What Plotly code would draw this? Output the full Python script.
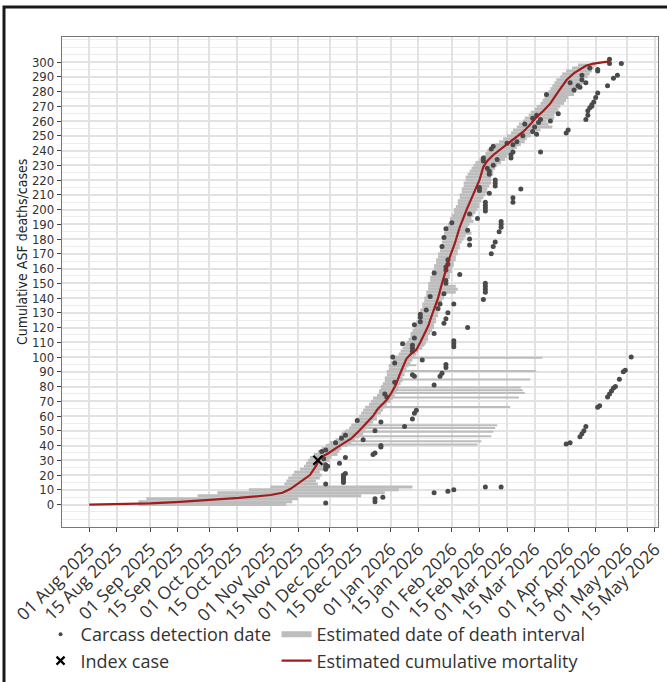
import pandas as pd
import plotly.graph_objects as go

START = pd.Timestamp("2025-08-01")

# Estimated cumulative mortality (days since 01 Aug 2025, cumulative count)
MORT_DAY = [0, 15, 31, 46, 61, 76, 92, 98, 102, 107, 112, 115, 116.5, 118, 121, 126, 130, 133,
            137, 141, 144, 146.5, 149, 151, 153, 155.5, 157.5, 159.5, 161, 163.5, 166, 168, 170,
            172, 173.5, 175, 177, 179, 181, 183, 185.5, 188, 191.5, 195, 198, 200, 202, 205, 209,
            213.6, 217, 220.4, 224, 227.2, 230.5, 234, 238, 242.3, 246, 249, 252, 255.8, 259, 262, 264]
MORT_VAL = [0, 0.2, 0.8, 1.8, 3, 4.5, 6.5, 8, 10.5, 15, 20, 26, 30, 32.5, 34.5, 39, 42, 44.8,
            50, 55.5, 60, 65, 68.5, 71, 75, 81, 88, 95, 99, 102.5, 105, 110, 116,
            121, 127, 133, 140, 150, 159, 168, 177, 188, 200, 211, 220, 229, 233, 237, 241,
            246, 249, 253, 258, 263, 267, 272, 280, 288, 292.5, 295, 297.5, 299, 299.5, 299.7, 300.5]

# Estimated date-of-death intervals (case rank, start day, end day)
BAND_CASE = [0, 2, 4, 6, 8, 10, 12, 14, 16, 18, 20, 22, 24, 26, 28, 30, 32, 34, 36, 38, 40,
             42, 44, 46, 48, 50, 52, 54, 56, 58, 60, 62, 64, 66, 68, 70, 72, 74, 76, 78, 80,
             82, 84, 86, 88, 90, 92, 94, 96, 98, 100, 102, 104, 106, 108, 110, 112, 114, 116, 118, 120,
             122, 124, 126, 128, 130, 132, 134, 136, 138, 140, 142, 144, 146, 148, 150, 152, 154, 156, 158, 160,
             162, 164, 166, 168, 170, 172, 174, 176, 178, 180, 182, 184, 186, 188, 190, 192, 194, 196, 198, 200,
             202, 204, 206, 208, 210, 212, 214, 216, 218, 220, 222, 224, 226, 228, 230, 232, 234, 236, 238, 240,
             242, 244, 246, 248, 250, 252, 254, 256, 258, 260, 262, 264, 266, 268, 270, 272, 274, 276, 278, 280,
             282, 284, 286, 288, 290, 292, 294, 296, 298]
BAND_START = [25, 25, 29, 55, 65, 81, 92, 99, 100, 101, 103, 104, 107, 109, 110, 111, 112, 114, 116, 118, 120,
              122, 125, 127, 128, 130, 132, 133, 135, 136, 137, 138, 139, 140, 142, 143, 144, 146, 147, 148, 148,
              149, 150, 150, 151, 151, 152, 152, 153, 154, 155, 157, 158, 159, 160, 161, 162, 163, 163, 164, 165,
              166, 166, 167, 167, 168, 168, 169, 169, 170, 170, 171, 171, 172, 172, 172, 173, 173, 174, 174, 175,
              175, 176, 176, 177, 177, 178, 178, 179, 179, 180, 180, 180, 181, 181, 182, 183, 183, 184, 185, 185,
              186, 187, 187, 188, 188, 189, 189, 190, 190, 191, 191, 192, 193, 194, 195, 196, 198, 200, 201, 202,
              204, 206, 208, 210, 212, 214, 215, 217, 218, 220, 221, 223, 224, 226, 227, 229, 230, 231, 232, 233,
              234, 235, 236, 237, 239, 240, 242, 245, 248]
BAND_END = [100, 103, 106, 138, 150, 157, 164, 116, 115, 117, 118, 117, 119, 121, 120, 122, 123, 126, 127, 128, 131,
            133, 135, 137, 139, 140, 141, 143, 144, 146, 146, 148, 149, 150, 151, 153, 154, 155, 156, 157, 157,
            158, 159, 159, 160, 160, 161, 162, 163, 164, 165, 166, 167, 169, 170, 171, 172, 172, 173, 174, 175,
            175, 176, 176, 177, 177, 178, 178, 179, 179, 180, 180, 186, 187, 186, 182, 182, 183, 183, 184, 184,
            185, 185, 186, 186, 187, 187, 188, 188, 189, 190, 191, 194, 191, 192, 193, 195, 194, 195, 196, 197,
            198, 198, 199, 200, 201, 202, 202, 203, 204, 204, 204, 205, 205, 206, 207, 209, 211, 212, 214, 215,
            217, 219, 221, 222, 224, 226, 229, 235, 233, 232, 236, 236, 238, 238, 239, 241, 242, 243, 246, 247,
            248, 250, 251, 251, 253, 254, 255, 256, 257]

# Long death intervals of carcasses found late
LONG_CASE = [40.7, 43, 46.4, 49.3, 52, 53.8, 66.2, 72.6, 75.7, 77.5, 79.4, 84.8, 90.5, 94.5, 99.5, 108.8]
LONG_START = [121, 124, 127, 129, 132, 133, 141, 144, 147, 147, 148, 150, 151, 152, 154, 160]
LONG_END = [197, 199, 204, 205, 206, 207, 213.6, 218, 221, 220, 219, 223.8, 226.8, 166, 230, 170.6]

# Carcass detection dates (day, case rank)
DET_DAY = [120, 145, 145, 149, 175, 182, 185, 201, 209, 120, 129, 129, 129, 129, 129, 129, 130, 120, 120, 121,
           120, 127, 119, 130, 118, 120, 144, 145, 148, 148, 125, 128, 130, 139, 136, 145, 148, 160, 164, 165,
           166, 151, 150, 175, 155, 165, 164, 178, 179, 181, 181, 169, 155, 154, 164, 164, 164, 159, 165, 185,
           185, 185, 175, 192, 180, 181, 182, 168, 168, 168, 165, 177, 178, 185, 171, 173, 180, 200, 201, 201,
           201, 201, 188, 181, 181, 182, 182, 175, 181, 181, 204, 184, 181, 180, 179, 205, 206, 208, 209, 209,
           209, 193, 193, 192, 197, 193, 201, 201, 201, 201, 198, 198, 203, 215, 215, 219, 206, 206, 206, 203,
           203, 202, 207, 205, 200, 200, 204, 205, 214, 214, 215, 212, 229, 215, 217, 220, 221, 225, 227, 229,
           228, 226, 225, 227, 234, 238, 232, 242, 243, 246, 248, 249, 244, 250, 250, 252, 252, 253, 253, 254,
           255, 255, 256, 257, 258, 254, 258, 258, 263, 266, 268, 264, 264, 270,
           242, 244, 249, 250, 251, 252, 258, 259, 263, 264, 265, 266, 267, 269, 271, 272, 275]
DET_CASE = [1, 2, 4, 5, 8, 9, 10, 12, 12, 14, 15, 16, 17, 18, 19, 20, 21, 24, 25, 26,
            27, 28, 31, 32, 36, 37, 34, 35, 39, 40, 42, 45, 47, 44, 57, 50, 56, 53, 58, 62,
            64, 73, 75, 81, 83, 87, 88, 87, 89, 93, 95, 98, 96, 100, 104, 106, 108, 109, 113, 107,
            109, 111, 116, 120, 123, 126, 130, 124, 127, 129, 122, 133, 136, 136, 132, 141, 143, 139, 144, 146,
            148, 150, 156, 159, 161, 163, 166, 157, 150, 152, 170, 191, 187, 181, 175, 175, 178, 185, 188, 190,
            192, 176, 180, 186, 194, 197, 199, 201, 203, 205, 213, 215, 211, 205, 208, 214, 216, 218, 220, 224,
            226, 228, 234, 230, 233, 235, 241, 243, 235, 237, 239, 245, 239, 244, 246, 250, 258, 262, 264, 261,
            259, 256, 253, 251, 260, 265, 278, 252, 254, 281, 284, 283, 286, 288, 291, 286, 261, 264, 267, 269,
            270, 271, 273, 276, 279, 296, 294, 295, 284, 289, 291, 299, 302, 299,
            41, 42, 46, 48, 50, 53, 66, 67, 73, 75, 77, 79, 80, 85, 90, 91, 100]

INDEX_DAY = [116]
INDEX_CASE = [30]

X_TICK_DATES = ["2025-08-01", "2025-08-15", "2025-09-01", "2025-09-15", "2025-10-01", "2025-10-15",
                "2025-11-01", "2025-11-15", "2025-12-01", "2025-12-15", "2026-01-01", "2026-01-15",
                "2026-02-01", "2026-02-15", "2026-03-01", "2026-03-15", "2026-04-01", "2026-04-15",
                "2026-05-01", "2026-05-15"]
Y_TICKS = [0, 10, 20, 30, 40, 50, 60, 70, 80, 90, 100, 110, 120, 130, 140, 150, 160, 170, 180, 190,
           200, 210, 220, 230, 240, 250, 260, 270, 280, 290, 300]

GREY = "#bdbdbd"
DOT = "#4a4a4a"
RED = "#a11d1d"
COND = "Liberation Sans Narrow, DejaVu Sans Condensed, Roboto Condensed, Arial Narrow, sans-serif"
SANS = "Open Sans, Noto Sans, sans-serif"


def to_dates(days):
    return [START + pd.Timedelta(days=d) for d in days]


def segments(cases, starts, ends):
    xs, ys = [], []
    for c, s, e in zip(cases, starts, ends):
        xs += [START + pd.Timedelta(days=s), START + pd.Timedelta(days=e), None]
        ys += [c, c, None]
    return xs, ys


fig = go.Figure()

bx, by = segments(BAND_CASE, BAND_START, BAND_END)
fig.add_trace(go.Scatter(x=bx, y=by, mode="lines", line=dict(color=GREY, width=3),
                         showlegend=False, hoverinfo="skip"))
lx, ly = segments(LONG_CASE, LONG_START, LONG_END)
fig.add_trace(go.Scatter(x=lx, y=ly, mode="lines", line=dict(color=GREY, width=2),
                         showlegend=False, hoverinfo="skip"))
fig.add_trace(go.Scatter(x=to_dates(DET_DAY), y=DET_CASE, mode="markers",
                         marker=dict(color=DOT, size=5), showlegend=False))
fig.add_trace(go.Scatter(x=to_dates(MORT_DAY), y=MORT_VAL, mode="lines",
                         line=dict(color=RED, width=2.2), showlegend=False))
fig.add_trace(go.Scatter(x=to_dates(INDEX_DAY), y=INDEX_CASE, mode="markers",
                         marker=dict(symbol="x-thin", size=9, line=dict(color="black", width=2.2)),
                         showlegend=False))

# legend entries (two columns = two legends)
fig.add_trace(go.Scatter(x=[None], y=[None], mode="markers", name="Carcass detection date",
                         marker=dict(color=DOT, size=4), legend="legend"))
fig.add_trace(go.Scatter(x=[None], y=[None], mode="markers", name="Index case",
                         marker=dict(symbol="x-thin", size=8, line=dict(color="black", width=2.2)),
                         legend="legend"))
fig.add_trace(go.Scatter(x=[None], y=[None], mode="lines", name="Estimated date of death interval",
                         line=dict(color=GREY, width=6), legend="legend2"))
fig.add_trace(go.Scatter(x=[None], y=[None], mode="lines", name="Estimated cumulative mortality",
                         line=dict(color=RED, width=2.2), legend="legend2"))

x0 = START + pd.Timedelta(days=-13.8)
x1 = START + pd.Timedelta(days=288.6)

LEG_FONT = dict(family=SANS, size=18, color="#333")

fig.update_layout(
    width=667, height=682,
    margin=dict(l=62, r=9, t=37, b=155, autoexpand=False),
    plot_bgcolor="white", paper_bgcolor="white",
    xaxis=dict(range=[x0, x1], tickvals=X_TICK_DATES, tickformat="%d %b %Y", tickangle=-45,
               ticks="outside", ticklen=4, tickcolor="#444", tickwidth=1.2,
               showgrid=True, gridcolor="#e2e2e2", gridwidth=1.5,
               showline=True, linecolor="#777", linewidth=1.3, mirror=True, zeroline=False,
               tickfont=dict(family=SANS, size=17.5, color="#333")),
    yaxis=dict(range=[-15.2, 317], tickvals=Y_TICKS, ticks="outside", ticklen=4, tickcolor="#444",
               tickwidth=1.2, showgrid=True, gridcolor="#e2e2e2", gridwidth=1.5,
               minor=dict(dtick=5, tick0=0, showgrid=True, gridcolor="#ececec", gridwidth=1),
               showline=True, linecolor="#777", linewidth=1.3, mirror=True, zeroline=False,
               tickfont=dict(family=COND, size=13, color="#333")),
    legend=dict(orientation="v", x=-0.036, xanchor="left", y=(527 - 616) / 490, yanchor="top",
                font=LEG_FONT, tracegroupgap=0, bgcolor="rgba(0,0,0,0)", itemwidth=30),
    legend2=dict(orientation="v", x=0.36, xanchor="left", y=(527 - 616) / 490, yanchor="top",
                 font=LEG_FONT, tracegroupgap=0, bgcolor="rgba(0,0,0,0)"),
    annotations=[dict(text="Cumulative ASF deaths/cases", textangle=-90, xref="paper", yref="paper",
                      x=(22 - 62) / 596, y=0.561, xanchor="center", yanchor="middle", showarrow=False,
                      font=dict(family=COND, size=14, color="#222"))],
    shapes=[dict(type="rect", xref="paper", yref="paper",
                 x0=(4 - 62) / 596, x1=(680 - 62) / 596, y0=(527 - 700) / 490, y1=(527 - 7) / 490,
                 line=dict(color="#1a1a1a", width=3), fillcolor="rgba(0,0,0,0)")],
)

fig.write_html("out.html", config={"displayModeBar": False},
               post_script="document.body.style.margin='0px';")
